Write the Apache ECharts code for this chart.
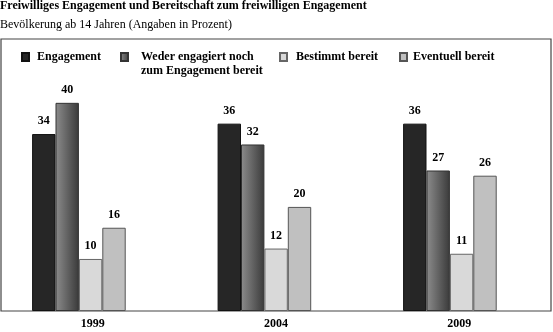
<!DOCTYPE html>
<html>
<head>
<meta charset="utf-8">
<script src="https://cdn.jsdelivr.net/npm/echarts@6/dist/echarts.min.js"></script>
<style>
  html, body { margin: 0; padding: 0; background: #fff; }
  #chart { width: 553px; height: 332px; }
</style>
</head>
<body>
<div id="chart"></div>
<script>
const years = ['1999', '2004', '2009'];
const engagement = [34, 36, 36];
const weder = [40, 32, 27];
const bestimmt = [10, 12, 11];
const eventuell = [16, 20, 26];
const seriesNames = ['Engagement', 'Weder engagiert noch zum Engagement bereit', 'Bestimmt bereit', 'Eventuell bereit'];

const font = '"Liberation Serif", "DejaVu Serif", serif';

let chartDom = document.getElementById('chart');
let myChart = echarts.init(chartDom);

const wederGrad = new echarts.graphic.LinearGradient(0, 0, 1, 0, [
  { offset: 0, color: '#8c8c8c' },
  { offset: 1, color: '#3a3a3a' }
]);

const styles = [
  { color: '#262626', borderColor: '#111' },
  { color: wederGrad, borderColor: '#333' },
  { color: '#d9d9d9', borderColor: '#666' },
  { color: '#c0c0c0', borderColor: '#555' }
];
const values = [engagement, weder, bestimmt, eventuell];

// one legend per item so each sits where it does in the picture
const legendPos = [
  { left: 21, top: 50, gap: 3 },
  { left: 120, top: 36, gap: 8 },
  { left: 279, top: 50, gap: 4 },
  { left: 399, top: 50, gap: 1 }
];
const legends = seriesNames.map((n, i) => ({
  data: [n],
  left: legendPos[i].left,
  top: legendPos[i].top,
  itemWidth: 7,
  itemHeight: 8,
  itemGap: 0,
  icon: 'rect',
  padding: 0,
  selectedMode: false,
  // blank first line keeps the icon level with "Weder engagiert noch"
  formatter: i === 1 ? ' \nWeder engagiert noch\nzum Engagement bereit' : '{name}',
  textStyle: {
    fontFamily: font,
    fontWeight: 'bold',
    fontSize: 12,
    color: '#000',
    lineHeight: 14,
    padding: [0, 0, 0, legendPos[i].gap]
  }
}));

let option = {
  animation: false,
  title: [
    {
      text: 'Freiwilliges Engagement und Bereitschaft zum freiwilligen Engagement',
      left: 0, top: 0, padding: 0,
      textStyle: { fontFamily: font, fontWeight: 'bold', fontSize: 12, color: '#000' }
    },
    {
      text: 'Bevölkerung ab 14 Jahren (Angaben in Prozent)',
      left: 0, top: 19, padding: 0,
      textStyle: { fontFamily: font, fontWeight: 'normal', fontSize: 12, color: '#000' }
    }
  ],
  legend: legends,
  grid: [
    // bars
    { left: 1, right: 2, top: 56, bottom: 21 },
    // frame and year labels
    { left: 1, right: 2, top: 39, bottom: 21, show: true, borderColor: '#444', borderWidth: 1.2, backgroundColor: 'transparent' }
  ],
  xAxis: [
    {
      // groups sit a little left of the year labels in the original
      gridIndex: 0, type: 'value', min: -0.42, max: 2.545, show: false
    },
    {
      gridIndex: 1, type: 'category', data: years,
      axisLine: { show: false }, axisTick: { show: false },
      axisLabel: { fontFamily: font, fontWeight: 'bold', fontSize: 12, color: '#000', margin: 7 }
    }
  ],
  yAxis: [
    { gridIndex: 0, type: 'value', min: 0, max: 49, show: false },
    { gridIndex: 1, type: 'value', min: 0, max: 1, show: false }
  ],
  series: seriesNames.map((n, i) => ({
    name: n,
    type: 'bar',
    xAxisIndex: 0,
    yAxisIndex: 0,
    barWidth: 23.4,
    barGap: '0%',
    data: values[i].map((v, k) => [k, v]),
    itemStyle: { color: styles[i].color, borderColor: styles[i].borderColor, borderWidth: 1 },
    label: {
      show: true,
      position: 'top',
      distance: 7,
      formatter: (p) => p.value[1],
      fontFamily: font,
      fontWeight: 'bold',
      fontSize: 12,
      color: '#000'
    }
  }))
};

option && myChart.setOption(option);
</script>
</body>
</html>
